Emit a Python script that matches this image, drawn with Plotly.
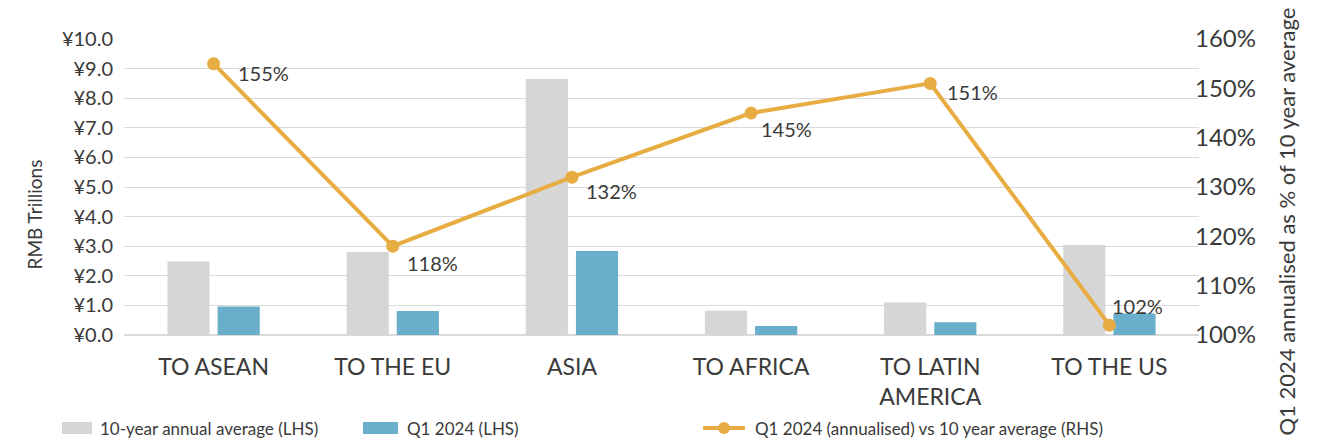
import plotly.graph_objects as go

# Trade flows by destination
categories = ["TO ASEAN", "TO THE EU", "ASIA", "TO AFRICA", "TO LATIN<br>AMERICA", "TO THE US"]
ten_year_avg = [2.48, 2.80, 8.65, 0.82, 1.10, 3.04]      # RMB trillions
q1_2024 = [0.96, 0.81, 2.84, 0.30, 0.43, 0.73]           # RMB trillions
ratio_pct = [155, 118, 132, 145, 151, 102]               # Q1 annualised vs 10y average, %

GREY = "#D6D6D6"
BLUE = "#69AECA"
GOLD = "#E8AD42"
TEXT = "#3A3A3A"
GRID = "#DADADA"
FONT = "Lato"

W, H = 1323, 442
L, R, T, B = 124, 124, 39, 107
pw, ph = W - L - R, H - T - B


def px_to_paper(x, y):
    return (x - L) / pw, 1 - (y - T) / ph


fig = go.Figure()
fig.add_trace(go.Bar(x=categories, y=ten_year_avg, name="10-year annual average (LHS)",
                     marker=dict(color=GREY, line=dict(width=0))))
fig.add_trace(go.Bar(x=categories, y=q1_2024, name="Q1 2024 (LHS)",
                     marker=dict(color=BLUE, line=dict(width=0))))
fig.add_trace(go.Scatter(x=categories, y=ratio_pct, yaxis="y2", mode="lines+markers",
                         name="Q1 2024 (annualised) vs 10 year average (RHS)",
                         line=dict(color=GOLD, width=4),
                         marker=dict(color=GOLD, size=13)))

anns = []
# data labels beside each marker (offsets in px: dx, dy)
label_offsets = [(22, -9), (12, -17), (12, -14), (8, -16), (15, -9), (1, 19)]
for cat, val, (dx, dy) in zip(categories, ratio_pct, label_offsets):
    anns.append(go.layout.Annotation(x=cat, y=val, yref="y2", text=f"{val}%", showarrow=False,
                                     xanchor="left", yanchor="middle", xshift=dx, yshift=dy,
                                     font=dict(family=FONT, size=20, color=TEXT)))

# axis titles
x0, y0 = px_to_paper(20, 215)
anns.append(go.layout.Annotation(x=x0, y=y0, xref="paper", yref="paper", text="RMB Trillions",
                                 showarrow=False, textangle=-90,
                                 font=dict(family=FONT, size=19, color=TEXT)))
x1, y1 = px_to_paper(1301, 221)
anns.append(go.layout.Annotation(x=x1, y=y1, xref="paper", yref="paper",
                                 text="Q1 2024 annualised as % of 10 year average",
                                 showarrow=False, textangle=-90,
                                 font=dict(family=FONT, size=22, color=TEXT)))

# legend drawn along the bottom
legend_items = [
    ("rect", GREY, 62, 92, 98, "10-year annual average (LHS)"),
    ("rect", BLUE, 363, 398, 405, "Q1 2024 (LHS)"),
    ("line", GOLD, 703, 745, 753, "Q1 2024 (annualised) vs 10 year average (RHS)"),
]
shapes = []
ly = 428
for kind, col, sx0, sx1, tx, label in legend_items:
    ax0, ay0 = px_to_paper(sx0, ly - 6)
    ax1, ay1 = px_to_paper(sx1, ly + 6)
    if kind == "rect":
        shapes.append(dict(type="rect", xref="paper", yref="paper", x0=ax0, x1=ax1, y0=ay1, y1=ay0,
                           fillcolor=col, line=dict(width=0)))
    else:
        _, ym = px_to_paper(0, ly)
        shapes.append(dict(type="line", xref="paper", yref="paper", x0=ax0, x1=ax1, y0=ym, y1=ym,
                           line=dict(color=col, width=4)))
        mx0, my0 = px_to_paper((sx0 + sx1) / 2 - 6, ly - 6)
        mx1, my1 = px_to_paper((sx0 + sx1) / 2 + 6, ly + 6)
        shapes.append(dict(type="circle", xref="paper", yref="paper", x0=mx0, x1=mx1, y0=my1, y1=my0,
                           fillcolor=col, line=dict(width=0)))
    txp, typ = px_to_paper(tx, ly)
    anns.append(go.layout.Annotation(x=txp, y=typ, xref="paper", yref="paper", text=label,
                                     showarrow=False, xanchor="left", yanchor="middle",
                                     font=dict(family=FONT, size=17, color=TEXT)))

fig.update_layout(
    width=W, height=H,
    margin=dict(l=L, r=R, t=T, b=B),
    paper_bgcolor="white", plot_bgcolor="white",
    barmode="group", bargap=0.44, bargroupgap=0.16,
    showlegend=False,
    font=dict(family=FONT, color=TEXT),
    xaxis=dict(showgrid=False, showline=False, ticks="", ticklabelstandoff=16,
               tickfont=dict(family=FONT, size=23, color=TEXT)),
    yaxis=dict(range=[0, 10], dtick=1, tickprefix="¥", tickformat=".1f",
               showgrid=True, gridcolor=GRID, gridwidth=1, zeroline=True, zerolinecolor=GRID,
               showline=False, ticks="", ticklabelstandoff=10,
               tickfont=dict(family=FONT, size=20, color=TEXT)),
    yaxis2=dict(range=[100, 160], dtick=10, ticksuffix="%", overlaying="y", side="right",
                showgrid=False, zeroline=False, showline=False, ticks="", ticklabelstandoff=-5,
                tickfont=dict(family=FONT, size=24, color=TEXT)),
    annotations=anns,
    shapes=shapes,
)

fig.write_html("out.html")
